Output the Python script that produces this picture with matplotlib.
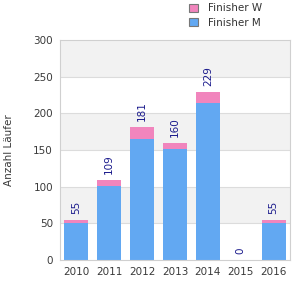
import matplotlib
matplotlib.use("Agg")
import matplotlib.pyplot as plt
from matplotlib.patches import Patch
import numpy as np

years = ["2010", "2011", "2012", "2013", "2014", "2015", "2016"]
finisher_m = [50, 101, 165, 151, 214, 0, 50]
finisher_w = [5, 8, 16, 9, 15, 0, 5]
totals = [55, 109, 181, 160, 229, 0, 55]
yticks = [0, 50, 100, 150, 200, 250, 300]

c_m = "#62a8f2"
c_w = "#f185bd"

fig = plt.figure(figsize=(3, 3), dpi=100)
ax = fig.add_axes([0.2, 0.1333, 0.7667, 0.7333])

x = np.arange(len(years))
ax.set_xlim(-0.5, len(years) - 0.5)
ax.set_ylim(0, 300)

for i in range(len(yticks) - 1):
    if i % 2 == 1:
        ax.axhspan(yticks[i], yticks[i + 1], color="#f2f2f2", zorder=0, lw=0)
for t in yticks[1:-1]:
    ax.axhline(t, color="#dcdcdc", lw=0.8, zorder=1)

ax.bar(x, finisher_m, width=0.73, color=c_m, zorder=2)
ax.bar(x, finisher_w, width=0.73, bottom=finisher_m, color=c_w, zorder=2)

for xi, t in zip(x, totals):
    ax.text(xi, t + 8, str(t), rotation=90, ha="center", va="bottom",
            fontsize=7.5, color="#1a1a8c", zorder=3)

ax.set_xticks(x)
ax.set_xticklabels(years)
ax.set_yticks(yticks)
ax.tick_params(length=0, labelsize=7.5, labelcolor="#3a3a3a", pad=5)
for s in ax.spines.values():
    s.set_color("#d0d0d0")
    s.set_linewidth(0.8)

ax.set_ylabel("Anzahl Läufer", fontsize=7.5, color="#3a3a3a", labelpad=14)

handles = [Patch(facecolor=c_w, edgecolor="#777777", lw=0.8, label="Finisher W"),
           Patch(facecolor=c_m, edgecolor="#777777", lw=0.8, label="Finisher M")]
fig.legend(handles=handles, loc="upper left", bbox_to_anchor=(0.6, 1.02),
           frameon=False, fontsize=7.5, handlelength=0.8, handleheight=0.8,
           labelspacing=0.4, handletextpad=1.0, labelcolor="#333333")

fig.savefig("out.png", dpi=100)
